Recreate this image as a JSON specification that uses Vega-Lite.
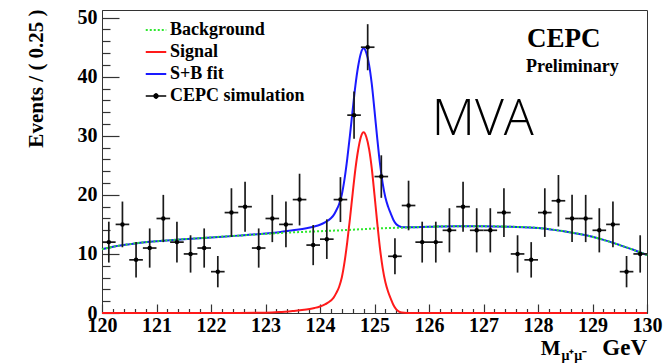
{
  "$schema": "https://vega.github.io/schema/vega-lite/v6.json",
  "width": 545,
  "height": 303,
  "autosize": {"type": "none"},
  "padding": {"left": 102, "top": 10, "right": 20, "bottom": 51},
  "background": "white",
  "config": {"view": {"stroke": "#333", "strokeWidth": 1}, "font": "Liberation Serif"},
  "resolve": {"axis": {"x": "independent", "y": "independent"}},
  "datasets": {
    "pts": [
      {"x": 120.125, "y": 12, "lo": 8.54, "hi": 15.46, "x0": 120, "x1": 120.25},
      {"x": 120.375, "y": 15, "lo": 11.13, "hi": 18.87, "x0": 120.25, "x1": 120.5},
      {"x": 120.625, "y": 9, "lo": 6, "hi": 12, "x0": 120.5, "x1": 120.75},
      {"x": 120.875, "y": 11, "lo": 7.68, "hi": 14.32, "x0": 120.75, "x1": 121},
      {"x": 121.125, "y": 16, "lo": 12, "hi": 20, "x0": 121, "x1": 121.25},
      {"x": 121.375, "y": 12, "lo": 8.54, "hi": 15.46, "x0": 121.25, "x1": 121.5},
      {"x": 121.625, "y": 10, "lo": 6.84, "hi": 13.16, "x0": 121.5, "x1": 121.75},
      {"x": 121.875, "y": 11, "lo": 7.68, "hi": 14.32, "x0": 121.75, "x1": 122},
      {"x": 122.125, "y": 7, "lo": 4.35, "hi": 9.65, "x0": 122, "x1": 122.25},
      {"x": 122.375, "y": 17, "lo": 12.88, "hi": 21.12, "x0": 122.25, "x1": 122.5},
      {"x": 122.625, "y": 18, "lo": 13.76, "hi": 22.24, "x0": 122.5, "x1": 122.75},
      {"x": 122.875, "y": 11, "lo": 7.68, "hi": 14.32, "x0": 122.75, "x1": 123},
      {"x": 123.125, "y": 16, "lo": 12, "hi": 20, "x0": 123, "x1": 123.25},
      {"x": 123.375, "y": 15, "lo": 11.13, "hi": 18.87, "x0": 123.25, "x1": 123.5},
      {"x": 123.625, "y": 19.2, "lo": 14.82, "hi": 23.58, "x0": 123.5, "x1": 123.75},
      {"x": 123.875, "y": 11.5, "lo": 8.1, "hi": 14.9, "x0": 123.75, "x1": 124},
      {"x": 124.125, "y": 12.5, "lo": 9.15, "hi": 15.85, "x0": 124, "x1": 124.25},
      {"x": 124.375, "y": 19.2, "lo": 15.4, "hi": 23.0, "x0": 124.25, "x1": 124.5},
      {"x": 124.625, "y": 33.5, "lo": 29.5, "hi": 37.5, "x0": 124.5, "x1": 124.75},
      {"x": 124.875, "y": 45.0, "lo": 41.1, "hi": 48.9, "x0": 124.75, "x1": 125},
      {"x": 125.125, "y": 23.1, "lo": 19.5, "hi": 26.7, "x0": 125, "x1": 125.25},
      {"x": 125.375, "y": 9.6, "lo": 6.55, "hi": 12.65, "x0": 125.25, "x1": 125.5},
      {"x": 125.625, "y": 18.2, "lo": 14.0, "hi": 22.4, "x0": 125.5, "x1": 125.75},
      {"x": 125.875, "y": 12, "lo": 8.54, "hi": 15.46, "x0": 125.75, "x1": 126},
      {"x": 126.125, "y": 12, "lo": 8.54, "hi": 15.46, "x0": 126, "x1": 126.25},
      {"x": 126.375, "y": 14, "lo": 10.26, "hi": 17.74, "x0": 126.25, "x1": 126.5},
      {"x": 126.625, "y": 18, "lo": 13.76, "hi": 22.24, "x0": 126.5, "x1": 126.75},
      {"x": 126.875, "y": 14, "lo": 10.26, "hi": 17.74, "x0": 126.75, "x1": 127},
      {"x": 127.125, "y": 14, "lo": 10.26, "hi": 17.74, "x0": 127, "x1": 127.25},
      {"x": 127.375, "y": 17, "lo": 12.88, "hi": 21.12, "x0": 127.25, "x1": 127.5},
      {"x": 127.625, "y": 10, "lo": 6.84, "hi": 13.16, "x0": 127.5, "x1": 127.75},
      {"x": 127.875, "y": 9, "lo": 6, "hi": 12, "x0": 127.75, "x1": 128},
      {"x": 128.125, "y": 17, "lo": 12.88, "hi": 21.12, "x0": 128, "x1": 128.25},
      {"x": 128.375, "y": 19, "lo": 14.64, "hi": 23.36, "x0": 128.25, "x1": 128.5},
      {"x": 128.625, "y": 16, "lo": 12, "hi": 20, "x0": 128.5, "x1": 128.75},
      {"x": 128.875, "y": 16, "lo": 12, "hi": 20, "x0": 128.75, "x1": 129},
      {"x": 129.125, "y": 14, "lo": 10.26, "hi": 17.74, "x0": 129, "x1": 129.25},
      {"x": 129.375, "y": 15, "lo": 11.13, "hi": 18.87, "x0": 129.25, "x1": 129.5},
      {"x": 129.625, "y": 7, "lo": 4.35, "hi": 9.65, "x0": 129.5, "x1": 129.75},
      {"x": 129.875, "y": 10, "lo": 6.84, "hi": 13.16, "x0": 129.75, "x1": 130}
    ],
    "bkg": [
      {"x": 120, "y": 10.8}, {"x": 120.25, "y": 11.3}, {"x": 120.5, "y": 11.65}, {"x": 120.75, "y": 11.95},
      {"x": 121, "y": 12.15}, {"x": 121.5, "y": 12.5}, {"x": 122, "y": 12.8}, {"x": 122.5, "y": 13.1},
      {"x": 123, "y": 13.4}, {"x": 123.5, "y": 13.65}, {"x": 124, "y": 13.85}, {"x": 124.5, "y": 14.05},
      {"x": 125, "y": 14.3}, {"x": 125.5, "y": 14.45}, {"x": 126, "y": 14.6}, {"x": 126.5, "y": 14.7},
      {"x": 127, "y": 14.7}, {"x": 127.5, "y": 14.6}, {"x": 128, "y": 14.4}, {"x": 128.5, "y": 13.8},
      {"x": 129, "y": 12.9}, {"x": 129.25, "y": 12.25}, {"x": 129.5, "y": 11.5}, {"x": 129.75, "y": 10.7},
      {"x": 130, "y": 9.8}
    ],
    "sig": [
      {"x": 120, "y": 0}, {"x": 121, "y": 0}, {"x": 122, "y": 0}, {"x": 122.5, "y": 0.01},
      {"x": 123, "y": 0.05}, {"x": 123.25, "y": 0.15}, {"x": 123.5, "y": 0.35}, {"x": 123.75, "y": 0.6},
      {"x": 123.9, "y": 0.85}, {"x": 124, "y": 1.1}, {"x": 124.1, "y": 1.5}, {"x": 124.2, "y": 2.1},
      {"x": 124.25, "y": 2.6}, {"x": 124.3, "y": 3.4}, {"x": 124.35, "y": 4.4}, {"x": 124.4, "y": 6.0},
      {"x": 124.45, "y": 8.6}, {"x": 124.5, "y": 12.0}, {"x": 124.55, "y": 16.0}, {"x": 124.6, "y": 20.3},
      {"x": 124.65, "y": 24.4}, {"x": 124.7, "y": 27.6}, {"x": 124.75, "y": 29.8}, {"x": 124.8, "y": 30.6},
      {"x": 124.85, "y": 29.8}, {"x": 124.9, "y": 27.8}, {"x": 124.95, "y": 24.5}, {"x": 125, "y": 20.0},
      {"x": 125.05, "y": 15.3}, {"x": 125.1, "y": 11.0}, {"x": 125.15, "y": 7.6}, {"x": 125.2, "y": 5.2},
      {"x": 125.25, "y": 3.6}, {"x": 125.3, "y": 2.4}, {"x": 125.35, "y": 1.3}, {"x": 125.4, "y": 0.6},
      {"x": 125.45, "y": 0.25}, {"x": 125.5, "y": 0.08}, {"x": 125.6, "y": 0}, {"x": 126, "y": 0},
      {"x": 127, "y": 0}, {"x": 128, "y": 0}, {"x": 129, "y": 0}, {"x": 130, "y": 0}
    ],
    "sb": [
      {"x": 120, "y": 10.8}, {"x": 120.25, "y": 11.3}, {"x": 120.5, "y": 11.65}, {"x": 120.75, "y": 11.95},
      {"x": 121, "y": 12.15}, {"x": 121.5, "y": 12.5}, {"x": 122, "y": 12.8}, {"x": 122.5, "y": 13.1},
      {"x": 123, "y": 13.45}, {"x": 123.25, "y": 13.67}, {"x": 123.5, "y": 14.0}, {"x": 123.75, "y": 14.35},
      {"x": 123.9, "y": 14.66}, {"x": 124, "y": 14.95}, {"x": 124.1, "y": 15.4}, {"x": 124.2, "y": 16.04},
      {"x": 124.25, "y": 16.56}, {"x": 124.3, "y": 17.39}, {"x": 124.35, "y": 18.41}, {"x": 124.4, "y": 20.03},
      {"x": 124.45, "y": 22.65}, {"x": 124.5, "y": 26.08}, {"x": 124.55, "y": 30.1}, {"x": 124.6, "y": 34.42},
      {"x": 124.65, "y": 38.54}, {"x": 124.7, "y": 41.77}, {"x": 124.75, "y": 43.99}, {"x": 124.8, "y": 44.81},
      {"x": 124.85, "y": 44.03}, {"x": 124.9, "y": 42.06}, {"x": 124.95, "y": 38.78}, {"x": 125, "y": 34.3},
      {"x": 125.05, "y": 29.62}, {"x": 125.1, "y": 25.33}, {"x": 125.15, "y": 21.95}, {"x": 125.2, "y": 19.56},
      {"x": 125.25, "y": 17.98}, {"x": 125.3, "y": 16.79}, {"x": 125.35, "y": 15.71}, {"x": 125.4, "y": 15.02},
      {"x": 125.45, "y": 14.69}, {"x": 125.5, "y": 14.53}, {"x": 125.6, "y": 14.5}, {"x": 126, "y": 14.6},
      {"x": 126.5, "y": 14.7}, {"x": 127, "y": 14.7}, {"x": 127.5, "y": 14.6}, {"x": 128, "y": 14.4},
      {"x": 128.5, "y": 13.8}, {"x": 129, "y": 12.9}, {"x": 129.25, "y": 12.25}, {"x": 129.5, "y": 11.5},
      {"x": 129.75, "y": 10.7}, {"x": 130, "y": 9.8}
    ]
  },
  "layer": [
    {
      "data": {"name": "sb"},
      "mark": {"type": "line", "strokeWidth": 2, "interpolate": "monotone"},
      "encoding": {
        "x": {
          "field": "x", "type": "quantitative",
          "scale": {"domain": [120, 130], "nice": false, "zero": false},
          "axis": {
            "orient": "bottom",
            "title": null,
            "values": [120, 121, 122, 123, 124, 125, 126, 127, 128, 129, 130],
            "format": "d",
            "tickSize": -9,
            "tickColor": "#333", "tickWidth": 1.2,
            "domainColor": "#333", "domainWidth": 1,
            "grid": false,
            "labelFont": "Liberation Serif", "labelFontWeight": "bold", "labelFontSize": 20, "labelColor": "black",
            "labelPadding": 11, "labelFlush": false, "labelOverlap": false, "labelBound": false
          }
        },
        "y": {
          "field": "y", "type": "quantitative",
          "scale": {"domain": [0, 51.3], "nice": false},
          "axis": {
            "orient": "left",
            "title": "Events / ( 0.25 )",
            "values": [0, 10, 20, 30, 40, 50],
            "format": "d",
            "tickSize": -17,
            "tickColor": "#333", "tickWidth": 1.2,
            "domainColor": "#333", "domainWidth": 1,
            "grid": false,
            "labelFont": "Liberation Serif", "labelFontWeight": "bold", "labelFontSize": 20, "labelColor": "black",
            "labelPadding": 22, "labelFlush": false, "labelOverlap": false, "labelBound": false,
            "titleFont": "Liberation Serif", "titleFontWeight": "bold", "titleFontSize": 21, "titleColor": "black",
            "titleX": -60, "titleY": 68, "titleAngle": 270, "titleAlign": "center", "titleBaseline": "alphabetic"
          }
        },
        "color": {
          "datum": "S+B fit", "type": "nominal",
          "scale": {"domain": ["Background", "Signal", "S+B fit", "CEPC simulation"], "range": ["#2ee82e", "#ff1a1a", "#1a1aff", "#000000"]},
          "legend": {
            "orient": "none", "legendX": 45, "legendY": 11, "title": null,
            "symbolType": "stroke", "symbolSize": 420, "symbolStrokeWidth": 2, "symbolOpacity": 1,
            "labelFont": "Liberation Serif", "labelFontWeight": "bold", "labelFontSize": 18, "labelColor": "black",
            "labelOffset": 5, "rowPadding": 4,
            "encode": {
              "symbols": {
                "update": {
                  "strokeDash": {"signal": "datum.value === 'Background' ? [2, 2] : [1, 0]"},
                  "shape": {"signal": "datum.value === 'CEPC simulation' ? 'M-1,0H1M0,-0.3V0.3M-0.2,0A0.2,0.2 0 1,0 0.2,0A0.2,0.2 0 1,0 -0.2,0Z' : 'stroke'"},
                  "fill": {"signal": "datum.value === 'CEPC simulation' ? '#000000' : 'transparent'"},
                  "strokeWidth": {"signal": "datum.value === 'CEPC simulation' ? 1.3 : 2"}
                }
              }
            }
          }
        }
      }
    },
    {
      "data": {"name": "bkg"},
      "mark": {"type": "line", "strokeWidth": 2, "strokeDash": [2, 2], "interpolate": "monotone"},
      "encoding": {
        "x": {
          "field": "x", "type": "quantitative",
          "axis": {
            "orient": "bottom", "title": null, "labels": false, "domain": false, "grid": false,
            "values": [120.2,120.4,120.6,120.8,121.2,121.4,121.6,121.8,122.2,122.4,122.6,122.8,123.2,123.4,123.6,123.8,124.2,124.4,124.6,124.8,125.2,125.4,125.6,125.8,126.2,126.4,126.6,126.8,127.2,127.4,127.6,127.8,128.2,128.4,128.6,128.8,129.2,129.4,129.6,129.8],
            "tickSize": -4.5, "tickColor": "#333", "tickWidth": 1.2
          }
        },
        "y": {
          "field": "y", "type": "quantitative",
          "axis": {
            "orient": "left", "title": null, "labels": false, "domain": false, "grid": false,
            "values": [2,4,6,8,12,14,16,18,22,24,26,28,32,34,36,38,42,44,46,48],
            "tickSize": -8, "tickColor": "#333", "tickWidth": 1.2
          }
        },
        "color": {"datum": "Background", "type": "nominal"}
      }
    },
    {
      "data": {"name": "sig"},
      "mark": {"type": "line", "strokeWidth": 2, "interpolate": "monotone"},
      "encoding": {
        "x": {"field": "x", "type": "quantitative", "axis": null},
        "y": {"field": "y", "type": "quantitative", "axis": null},
        "color": {"datum": "Signal", "type": "nominal"}
      }
    },
    {
      "data": {"name": "pts"},
      "mark": {"type": "rule", "color": "#1a1a1a", "strokeWidth": 1.7},
      "encoding": {
        "x": {"field": "x", "type": "quantitative", "axis": null},
        "y": {"field": "lo", "type": "quantitative", "axis": null},
        "y2": {"field": "hi"}
      }
    },
    {
      "data": {"name": "pts"},
      "mark": {"type": "rule", "color": "#1a1a1a", "strokeWidth": 1.7},
      "encoding": {
        "x": {"field": "x0", "type": "quantitative", "axis": null},
        "x2": {"field": "x1"},
        "y": {"field": "y", "type": "quantitative", "axis": null}
      }
    },
    {
      "data": {"name": "pts"},
      "mark": {"type": "point", "filled": true, "size": 20, "opacity": 1, "shape": "circle"},
      "encoding": {
        "x": {"field": "x", "type": "quantitative", "axis": null},
        "y": {"field": "y", "type": "quantitative", "axis": null},
        "color": {"datum": "CEPC simulation", "type": "nominal"}
      }
    },
    {
      "data": {"values": [{}]},
      "mark": {"type": "text", "text": "CEPC", "font": "Liberation Serif", "fontWeight": "bold", "fontSize": 27, "align": "left", "baseline": "alphabetic", "color": "black"},
      "encoding": {"x": {"datum": 127.8, "axis": null}, "y": {"datum": 45.06, "axis": null}}
    },
    {
      "data": {"values": [{}]},
      "mark": {"type": "text", "text": "Preliminary", "font": "Liberation Serif", "fontWeight": "bold", "fontSize": 18, "align": "left", "baseline": "alphabetic", "color": "black"},
      "encoding": {"x": {"datum": 127.78, "axis": null}, "y": {"datum": 40.8, "axis": null}}
    },
    {
      "data": {"values": [{}]},
      "mark": {"type": "text", "text": "MVA", "font": "Open Sans", "fontWeight": 300, "fontSize": 50, "align": "left", "baseline": "alphabetic", "color": "black"},
      "encoding": {"x": {"datum": 126.05, "axis": null}, "y": {"datum": 30.2, "axis": null}}
    },
    {
      "data": {"values": [{}]},
      "mark": {"type": "text", "text": "M", "font": "Liberation Serif", "fontWeight": "bold", "fontSize": 21, "align": "left", "baseline": "alphabetic", "color": "black"},
      "encoding": {"x": {"datum": 128.05, "axis": null}, "y": {"datum": -7.06, "axis": null}}
    },
    {
      "data": {"values": [{}]},
      "mark": {"type": "text", "text": "μ⁺μ⁻", "font": "Liberation Serif", "fontWeight": "bold", "fontSize": 14, "align": "left", "baseline": "alphabetic", "color": "black"},
      "encoding": {"x": {"datum": 128.43, "axis": null}, "y": {"datum": -7.9, "axis": null}}
    },
    {
      "data": {"values": [{}]},
      "mark": {"type": "text", "text": "GeV", "font": "Liberation Serif", "fontWeight": "bold", "fontSize": 23, "align": "right", "baseline": "alphabetic", "color": "black"},
      "encoding": {"x": {"datum": 130, "axis": null}, "y": {"datum": -7.06, "axis": null}}
    }
  ]
}
